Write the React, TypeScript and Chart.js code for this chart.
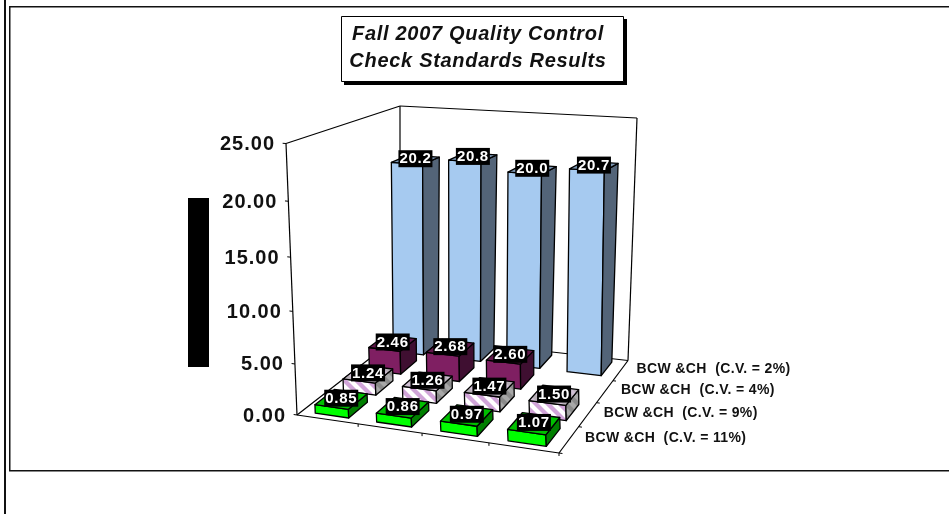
import React, { useEffect, useRef } from "react";
import { Chart, registerables } from "chart.js";

Chart.register(...registerables);

const categories = ["A", "B", "C", "D"];
const seriesNames = [
  "BCW &CH  (C.V. = 11%)",
  "BCW &CH  (C.V. = 9%)",
  "BCW &CH  (C.V. = 4%)",
  "BCW &CH  (C.V. = 2%)",
];
const cv11 = [0.85, 0.86, 0.97, 1.07];
const cv9 = [1.24, 1.26, 1.47, 1.5];
const cv4 = [2.46, 2.68, 2.6, null];
const cv2 = [20.2, 20.8, 20.0, 20.7];
const decimals = [2, 2, 2, 1];
const titleLines = ["Fall 2007 Quality Control", "Check Standards Results"];

// camera: screen position of the cube corners (front-left, front-right, back-right, back-left)
const FLOOR = [[297, 415], [559, 453], [628, 360.5], [400, 335]];
const CEIL = [[286, 143.5], [545, 160], [637, 118], [400, 106]];
const LENS = 0.08;
const BAR_W = 0.55;
const BAR_D = 0.68;
const FONT = '"Liberation Sans", Arial, sans-serif';

function quadMap(q: number[][]) {
  const [[x0, y0], [x1, y1], [x2, y2], [x3, y3]] = q;
  const dx1 = x1 - x2, dx2 = x3 - x2, sx = x0 - x1 + x2 - x3;
  const dy1 = y1 - y2, dy2 = y3 - y2, sy = y0 - y1 + y2 - y3;
  const den = dx1 * dy2 - dx2 * dy1;
  const g = (sx * dy2 - dx2 * sy) / den, h = (dx1 * sy - sx * dy1) / den;
  const a = x1 - x0 + g * x1, b = x3 - x0 + h * x3;
  const d = y1 - y0 + g * y1, e = y3 - y0 + h * y3;
  return (u: number, w: number) => {
    const W = g * u + h * w + 1;
    return [(a * u + b * w + x0) / W, (d * u + e * w + y0) / W];
  };
}

function camera() {
  const floor = quadMap(FLOOR);
  const ceil = quadMap(CEIL);
  return (u: number, w: number, v: number): number[] => {
    const t = v / (1 + LENS * (1 - v));
    const f = floor(u, w), c = ceil(u, w);
    return [f[0] + (c[0] - f[0]) * t, f[1] + (c[1] - f[1]) * t];
  };
}

function stripes(ctx: CanvasRenderingContext2D, bg: string, fg: string) {
  const n = 12;
  const c = document.createElement("canvas");
  c.width = n;
  c.height = n;
  const g = c.getContext("2d")!;
  g.fillStyle = bg;
  g.fillRect(0, 0, n, n);
  g.strokeStyle = fg;
  g.lineWidth = 4.2;
  for (let o = -n; o <= n; o += n) {
    g.beginPath();
    g.moveTo(o - 2, -2);
    g.lineTo(o + n + 2, n + 2);
    g.stroke();
  }
  return ctx.createPattern(c, "repeat")!;
}

const scene = {
  id: "scene3d",
  afterDatasetsDraw(chart: any) {
    const ctx: CanvasRenderingContext2D = chart.ctx;
    const { x, y, depth } = chart.scales;
    const P = camera();
    const U = (i: number) => (x.getPixelForValue(i) - x.left) / x.width;
    const Z = (i: number) => (depth.getPixelForValue(i) - depth.left) / depth.width;
    const V = (val: number) => (y.bottom - y.getPixelForValue(val)) / y.height;
    const du = U(1) - U(0), dz = Z(1) - Z(0);

    const line = (a: number[], b: number[], lw = 1.2) => {
      ctx.beginPath();
      ctx.moveTo(a[0], a[1]);
      ctx.lineTo(b[0], b[1]);
      ctx.lineWidth = lw;
      ctx.strokeStyle = "#000";
      ctx.stroke();
    };
    const poly = (pts: number[][], fill: any) => {
      ctx.beginPath();
      pts.forEach((p, i) => (i ? ctx.lineTo(p[0], p[1]) : ctx.moveTo(p[0], p[1])));
      ctx.closePath();
      ctx.fillStyle = fill;
      ctx.fill();
      ctx.lineWidth = 1.3;
      ctx.strokeStyle = "#000";
      ctx.lineJoin = "round";
      ctx.stroke();
    };
    const text = (s: string, px: number, py: number, font: string, color: string, align: CanvasTextAlign, spacing: string) => {
      ctx.font = font;
      ctx.fillStyle = color;
      ctx.textAlign = align;
      ctx.textBaseline = "middle";
      (ctx as any).letterSpacing = spacing;
      ctx.fillText(s, px, py);
      (ctx as any).letterSpacing = "0px";
    };

    // page frame
    ctx.fillStyle = "#111";
    ctx.fillRect(4, 0, 2, 514);
    ctx.fillRect(9, 6, 940, 1.5);
    ctx.fillRect(9, 6, 1.5, 465);
    ctx.fillRect(9, 470, 940, 1.5);

    // walls and floor
    line(P(0, 0, 0), P(0, 0, 1));
    line(P(0, 0, 1), P(0, 1, 1));
    line(P(0, 1, 0), P(0, 1, 1));
    line(P(0, 1, 1), P(1, 1, 1));
    line(P(1, 1, 0), P(1, 1, 1));
    line(P(0, 0, 0), P(1, 0, 0));
    line(P(1, 0, 0), P(1, 1, 0));
    line(P(1, 1, 0), P(0, 1, 0));
    line(P(0, 1, 0), P(0, 0, 0));

    // value axis
    for (const t of y.ticks) {
      const v = V(t.value);
      const p0 = P(0, 0, v);
      line(p0, P(-0.014, 0, v), 1);
      text(t.label, p0[0] - 11, p0[1] + 1, `bold 20px ${FONT}`, "#111", "right", "1px");
    }
    // category and depth ticks
    categories.forEach((_, i) => {
      const p = P(U(i + 0.5), 0, 0);
      line(p, [p[0], p[1] + 3], 1);
    });
    seriesNames.forEach((name, i) => {
      line(P(1, Z(i - 0.5), 0), P(1.012, Z(i - 0.5), 0), 1);
      const c = P(1, Z(i), 0);
      text(name, c[0] + 16, c[1] - 1, `bold 14px ${FONT}`, "#111", "left", "0.35px");
    });

    // bars, back to front, left to right
    const looks = [
      { front: "#00FF00", side: "#007F00", top: "#00BF00" },
      {
        front: stripes(ctx, "#FFFFFF", "#D0A4D8"),
        side: stripes(ctx, "#8A8A8A", "#A8A8A8"),
        top: stripes(ctx, "#B8B0B8", "#D0C0D4"),
      },
      { front: "#7F1F62", side: "#3F0F31", top: "#5F1749" },
      { front: "#A6CAF0", side: "#536478", top: "#7C97B4" },
    ];
    const labels: [string, number, number][] = [];
    for (let s = chart.data.datasets.length - 1; s >= 0; s--) {
      const data = chart.data.datasets[s].data;
      data.forEach((val: number | null, i: number) => {
        if (val === null) return;
        const u0 = U(i) - (du * BAR_W) / 2, u1 = U(i) + (du * BAR_W) / 2;
        const z0 = Z(s) - (dz * BAR_D) / 2, z1 = Z(s) + (dz * BAR_D) / 2;
        const v = V(val);
        const look = looks[s];
        poly([P(u0, z0, 0), P(u1, z0, 0), P(u1, z0, v), P(u0, z0, v)], look.front);
        poly([P(u1, z0, 0), P(u1, z1, 0), P(u1, z1, v), P(u1, z0, v)], look.side);
        poly([P(u0, z0, v), P(u1, z0, v), P(u1, z1, v), P(u0, z1, v)], look.top);
        const c = P(U(i), Z(s), v);
        labels.push([val.toFixed(decimals[s]), c[0], c[1] - 1]);
      });
    }
    // data labels
    for (const [s, px, py] of labels) {
      ctx.fillStyle = "#000";
      ctx.fillRect(px - 17, py - 8.5, 34, 17);
      text(s, px, py + 0.5, `bold 15px ${FONT}`, "#fff", "center", "0.7px");
    }

    // blacked out axis title
    ctx.fillStyle = "#000";
    ctx.fillRect(188, 198, 21, 169);

    // title box
    ctx.fillStyle = "#000";
    ctx.fillRect(344, 19, 283, 66);
    ctx.fillStyle = "#fff";
    ctx.fillRect(341.5, 16.5, 282, 65);
    ctx.strokeStyle = "#000";
    ctx.lineWidth = 1;
    ctx.strokeRect(341.5, 16.5, 282, 65);
    titleLines.forEach((t, i) => {
      text(t, 478, 34 + i * 27, `italic bold 20px ${FONT}`, "#111", "center", "0.7px");
    });
  },
};

export default function App() {
  const ref = useRef<HTMLCanvasElement>(null);
  useEffect(() => {
    document.body.style.margin = "0";
    const chart = new Chart(ref.current!, {
      type: "bar",
      data: {
        labels: categories,
        datasets: [cv11, cv9, cv4, cv2].map((data, i) => ({
          label: seriesNames[i],
          data,
          backgroundColor: "transparent",
          borderWidth: 0,
        })),
      },
      options: {
        responsive: false,
        animation: false,
        events: [],
        layout: { padding: 0 },
        plugins: { legend: { display: false }, title: { display: false }, tooltip: { enabled: false } },
        scales: {
          x: { type: "category", display: false, offset: true },
          depth: { type: "category", axis: "x", position: "bottom", labels: seriesNames, display: false, offset: true },
          y: {
            type: "linear",
            display: false,
            min: 0,
            max: 25,
            ticks: { stepSize: 5, callback: (v: any) => Number(v).toFixed(2) },
          },
        },
      },
      plugins: [scene],
    } as any);
    return () => chart.destroy();
  }, []);
  return (
    <div style={{ width: 949, height: 514 }}>
      <canvas ref={ref} width={949} height={514} style={{ display: "block" }} />
    </div>
  );
}
